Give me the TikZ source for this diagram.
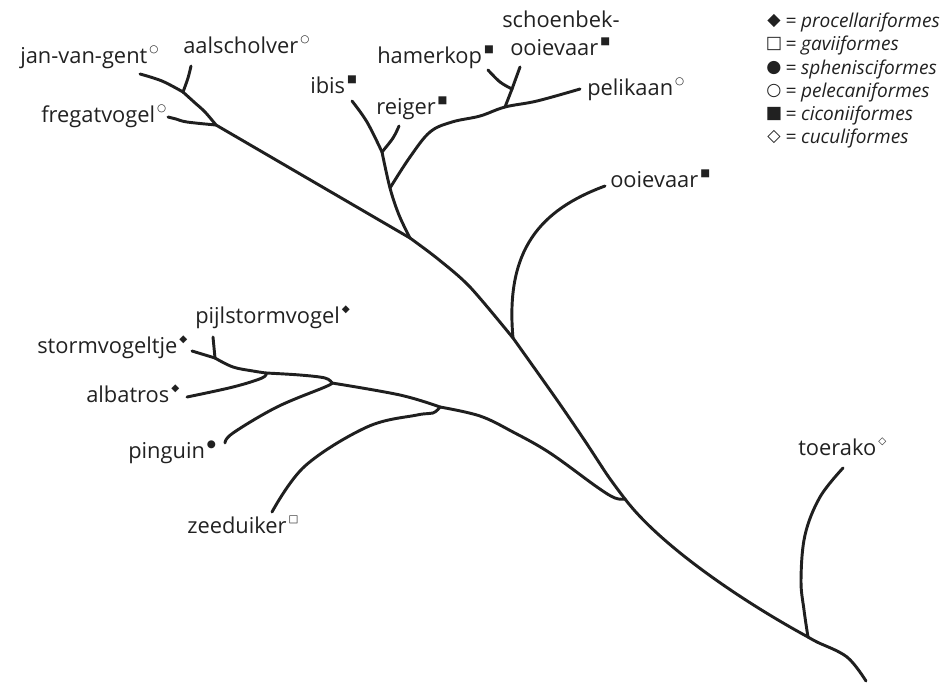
\documentclass[tikz,border=0pt]{standalone}
\usepackage{fontspec}
\setmainfont{Open Sans}
\newfontfamily\symf{DejaVu Sans}
\newcommand\supsym[1]{\hspace{1.5pt}\raisebox{7.8pt}{\fontsize{7.8}{7.8}\selectfont\symf\bfseries #1}}
\begin{document}
\begin{tikzpicture}[x=0.75pt,y=-0.75pt,
  branch/.style={line width=2.2pt, line cap=round, line join=round, draw=black!88},
  lbl/.style={inner sep=0pt, anchor=base west, text=black!87, font=\fontsize{16.4}{18}\selectfont},
  leg/.style={inner sep=0pt, anchor=base west, text=black!87, font=\fontsize{14.3}{16}\selectfont\itshape},
  legsym/.style={inner sep=0pt, anchor=center, text=black!87, font=\fontsize{13}{13}\selectfont\symf}]
\useasboundingbox (0,0) rectangle (949,683);
% junctions and leaves
\coordinate (root) at (866,681);
\coordinate (T) at (808,637);
\coordinate (TL) at (843,468);
\coordinate (A) at (625,499);
\coordinate (O) at (513,338);
\coordinate (OL) at (605,186);
\coordinate (H) at (410,238);
\coordinate (HP) at (390,188);
\coordinate (HR) at (382,152);
\coordinate (ibisL) at (352,101);
\coordinate (reigL) at (399,126);
\coordinate (PJ) at (505,107);
\coordinate (HS) at (512,89);
\coordinate (schL) at (520,67);
\coordinate (hamL) at (488,70);
\coordinate (pelL) at (580,89);
\coordinate (P) at (216,125);
\coordinate (JA) at (183,92);
\coordinate (aalL) at (191,66);
\coordinate (janL) at (140,74);
\coordinate (freL) at (168,117);
\coordinate (S) at (440,407);
\coordinate (zeeL) at (272,512);
\coordinate (PG) at (332,383);
\coordinate (pinL) at (225,443);
\coordinate (AL) at (266,373);
\coordinate (albL) at (187,397);
\coordinate (SP) at (215,358);
\coordinate (pijL) at (213,337);
\coordinate (stoL) at (192,351);
% trunk
\draw[branch] plot[smooth,tension=0.6] coordinates {(root) (847,657) (817,642) (T)};
\draw[branch] (T) .. controls (740,600) and (660,545) .. (A);
\draw[branch] plot[smooth,tension=0.5] coordinates {(A) (608,476) (585,441) (557,400) (O)};
\draw[branch] plot[smooth,tension=0.5] coordinates {(O) (470,287) (438,259) (H)};
\draw[branch] (H) -- (P);
% toerako
\draw[branch] plot[smooth,tension=0.6] coordinates {(T) (804,610) (801,580) (805,535) (820,497) (TL)};
% ooievaar
\draw[branch] (O) .. controls (505,250) and (540,210) .. (OL);
% herons
\draw[branch] plot[smooth,tension=0.6] coordinates {(H) (399,215) (HP) (HR)};
\draw[branch] plot[smooth,tension=0.6] coordinates {(HR) (367,122) (ibisL)};
\draw[branch] plot[smooth,tension=0.6] coordinates {(HR) (393,138) (reigL)};
\draw[branch] plot[smooth,tension=0.6] coordinates {(HP) (410,157) (430,132) (452,122) (480,116) (PJ) (537,101) (pelL)};
\draw[branch] (PJ) -- (HS) -- (schL);
\draw[branch] plot[smooth,tension=0.6] coordinates {(HS) (500,82) (hamL)};
% pelecaniformes
\draw[branch] plot[smooth,tension=0.6] coordinates {(P) (205,112) (194,102) (JA)};
\draw[branch] plot[smooth,tension=0.6] coordinates {(JA) (188,78) (aalL)};
\draw[branch] plot[smooth,tension=0.6] coordinates {(JA) (162,81) (janL)};
\draw[branch] plot[smooth,tension=0.6] coordinates {(P) (187,122) (176,119) (freL)};
% seabirds
\draw[branch] plot[smooth,tension=0.6] coordinates {(S) (480,416) (513,432) (550,453) (597,487) (615,498) (A)};
\draw[branch] plot[smooth,tension=0.6] coordinates {(S) (433,413) (417,415) (367,427) (305,466) (zeeL)};
\draw[branch] plot[smooth,tension=0.6] coordinates {(S) (400,395) (PG)};
\draw[branch] plot[smooth,tension=0.6] coordinates {(PG) (325,387) (277,407) (233,433) (pinL)};
\draw[branch] plot[smooth,tension=0.6] coordinates {(PG) (325,378) (300,375) (AL)};
\draw[branch] plot[smooth,tension=0.6] coordinates {(AL) (262,378) (233,387) (albL)};
\draw[branch] plot[smooth,tension=0.6] coordinates {(AL) (253,371) (233,367) (SP)};
\draw[branch] (SP) -- (pijL);
\draw[branch] (SP) -- (stoL);
% labels
\node[lbl] (ljan) at (20,63) {jan-van-gent\supsym{○}};
\node[lbl] (laal) at (183,53) {aalscholver\supsym{○}};
\node[lbl] (lfre) at (41,122) {fregatvogel\supsym{○}};
\node[lbl] (libi) at (310,93) {ibis\supsym{■}};
\node[lbl] (lrei) at (376,114) {reiger\supsym{■}};
\node[lbl] (lham) at (377,63) {hamerkop\supsym{■}};
\node[lbl] (lsch) at (502,27) {schoenbek-};
\node[lbl] (lsch2) at (510,55) {ooievaar\supsym{■}};
\node[lbl] (lpel) at (587,95) {pelikaan\supsym{○}};
\node[lbl] (looi) at (610,187) {ooievaar\supsym{■}};
\node[lbl] (lpij) at (195,323) {pijlstormvogel\supsym{◆}};
\node[lbl] (lsto) at (37,353) {stormvogeltje\supsym{◆}};
\node[lbl] (lalb) at (86,402) {albatros\supsym{◆}};
\node[lbl] (lpin) at (128,458) {pinguin\supsym{●}};
\node[lbl] (lzee) at (187,533) {zeeduiker\supsym{□}};
\node[lbl] (ltoe) at (798,455) {toerako\supsym{◇}};
% legend
\foreach \s/\t/\y [count=\i] in {◆/procellariformes/27, □/gaviiformes/50, ●/sphenisciformes/74, ○/pelecaniformes/97, ■/ciconiiformes/120, ◇/cuculiformes/143}{
  \node[legsym] (ls\i) at (774,\y-6) {\s};
  \node[leg] (lt\i) at (785,\y) {= \t};
}
\end{tikzpicture}
\end{document}
